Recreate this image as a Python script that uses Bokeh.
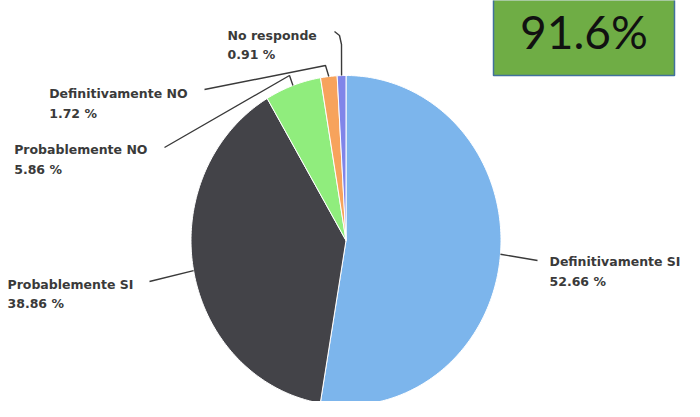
import math
from bokeh.plotting import figure
from bokeh.models import Range1d
from bokeh.core.properties import value
from bokeh.embed import file_html
from bokeh.resources import INLINE

# ---- data ----
categories = ["Definitivamente SI", "Probablemente SI", "Probablemente NO",
              "Definitivamente NO", "No responde"]
percentages = [52.66, 38.86, 5.86, 1.72, 0.91]
colors = ["#7cb5ec", "#434348", "#90ed7d", "#f7a35c", "#8085e9"]
headline = "91.6%"

# ---- layout (page pixel coordinates) ----
W, H = 684, 401
CX, CY = 353.5, 248.0
RX, RY = 155.0, 165.0
label_pos = [(557.0, 269.0), (15.0, 292.0), (21.7, 157.0), (56.7, 100.7), (235.0, 43.3)]
line_gap = [20, 19, 20, 20, 19]
connector_waypoints = [
    [(545, 268)],
    [(157, 289)],
    [(172, 155), (297, 83)],
    [(212, 97), (333, 73)],
    [(342, 39), (347, 43), (349, 52)],
]

p = figure(width=W, height=H, output_backend="svg", toolbar_location=None,
           x_range=Range1d(8, 8 + W), y_range=Range1d(8 + H, 8),
           min_border=0, outline_line_color=None)
p.axis.visible = False
p.grid.visible = False
p.background_fill_color = "white"
p.border_fill_color = "white"


def edge(frac):
    a = 2 * math.pi * frac
    return CX + RX * math.sin(a), CY - RY * math.cos(a)


total = sum(percentages)
xs, ys, mids = [], [], []
cum = 0.0
for v in percentages:
    f0 = cum / total
    f1 = (cum + v) / total
    n = max(4, int((f1 - f0) * 360))
    px, py = [CX], [CY]
    for i in range(n + 1):
        x, y = edge(f0 + (f1 - f0) * i / n)
        px.append(x)
        py.append(y)
    xs.append(px)
    ys.append(py)
    mids.append((f0 + f1) / 2)
    cum += v

p.patches(xs=xs, ys=ys, fill_color=colors, line_color="white", line_width=1)

# connectors
for mid, wp in zip(mids, connector_waypoints):
    ex, ey = edge(mid)
    lx = [pt[0] for pt in wp] + [ex]
    ly = [pt[1] for pt in wp] + [ey]
    p.line(lx, ly, line_color="#3a3a3a", line_width=1.4)

# labels
for (lx, ly), gap, name, v in zip(label_pos, line_gap, categories, percentages):
    p.text(x=[lx], y=[ly], text=[name], text_font=value("DejaVu Sans"),
           text_font_style="bold", text_font_size="12.5px", text_color="#3a3a3a",
           text_baseline="alphabetic", text_align="left")
    p.text(x=[lx], y=[ly + gap], text=[f"{v:.2f} %"], text_font=value("DejaVu Sans"),
           text_font_style="bold", text_font_size="12.5px", text_color="#3a3a3a",
           text_baseline="alphabetic", text_align="left")

# headline box
p.quad(left=[501], right=[682], top=[7], bottom=[83], fill_color="#6fad45",
       line_color="#41719c", line_width=1.5)
p.text(x=[591.5], y=[39], text=[headline], text_font=value("Lato"),
       text_font_size="46px", text_color="#111111", text_align="center",
       text_baseline="alphabetic")

open("out.html", "w").write(file_html(p, INLINE))
